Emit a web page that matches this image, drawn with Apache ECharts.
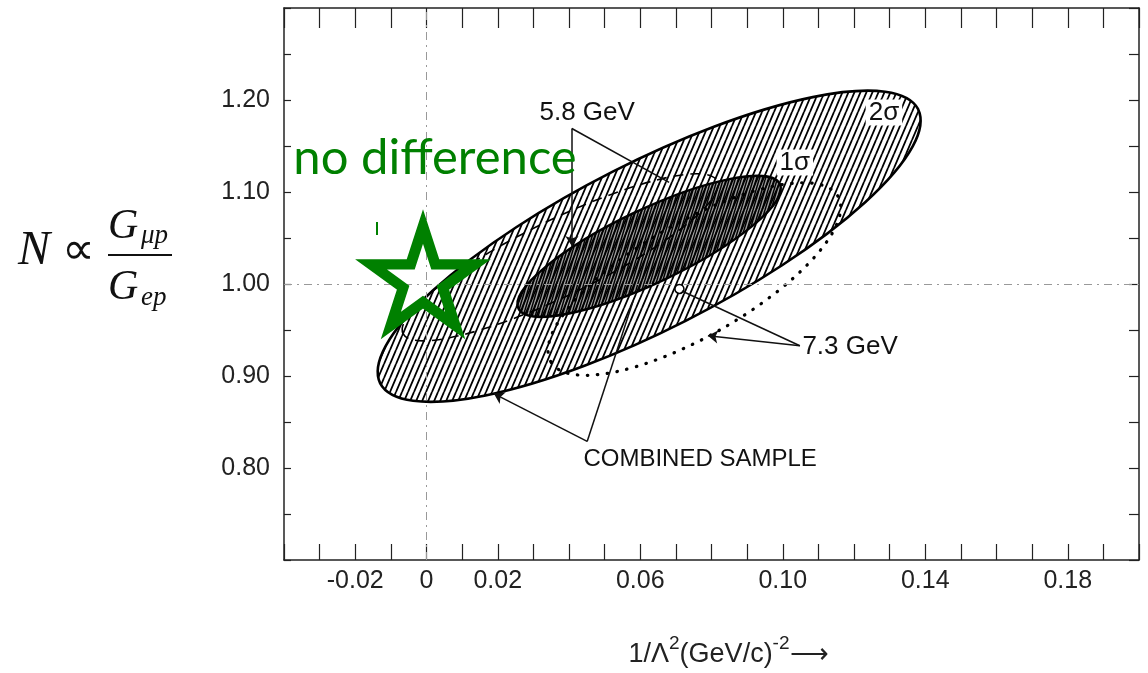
<!DOCTYPE html>
<html><head><meta charset="utf-8">
<script src="https://cdn.jsdelivr.net/npm/echarts@6/dist/echarts.min.js"></script>
<style>html,body{margin:0;padding:0;background:#fff}#c{width:1148px;height:673px}</style>
</head><body><div id="c"></div>
<script>
// ---- axis tick labels ----
const xLabelValues = [-0.02, 0, 0.02, 0.06, 0.10, 0.14, 0.18];
const yLabelValues = [0.80, 0.90, 1.00, 1.10, 1.20];
// ---- contours: [centerX, centerY, majorAxisEndX, majorAxisEndY, minorAxisEndX, minorAxisEndY] ----
const combined2Sigma = [0.0625, 1.041, 0.138, 1.190, 0.073, 0.960];
const combined1Sigma = [0.0625, 1.041, 0.0992, 1.1087, 0.0669, 1.005];
const gev58Contour   = [0.0375, 1.029, 0.0816, 1.112, 0.0422, 0.992];
const gev73Contour   = [0.0752, 1.0054, 0.1155, 1.0953, 0.0832, 0.9519];
// ---- points ----
const gev73Point = [0.0710, 0.9946];
const noDifferencePoint = [0, 1.0];
// ---- annotation texts ----
const labelNames = ['5.8 GeV', '2σ', '1σ', '7.3 GeV', 'COMBINED SAMPLE'];
const labelPositions = [[0.0451, 1.1863], [0.1284, 1.1863], [0.1034, 1.1321], [0.1189, 0.9318], [0.0768, 0.8094]];
// ---- leader lines ----
const arrowLines = [
  [[0.0408, 1.169], [0.0408, 1.0412]],
  [[0.1048, 0.9329], [0.0790, 0.9437]],
  [[0.0451, 0.8289], [0.0189, 0.8809]]
];
const plainLines = [
  [[0.0408, 1.169], [0.0681, 1.1105]],
  [[0.1048, 0.9329], [0.0717, 0.9924]],
  [[0.0451, 0.8289], [0.0580, 0.9816]]
];

function hatchCanvas(w, h, lw, color, bg) {
  const c = document.createElement('canvas');
  c.width = w; c.height = h;
  const g = c.getContext('2d');
  if (bg) { g.fillStyle = bg; g.fillRect(0, 0, w, h); }
  g.strokeStyle = color; g.lineWidth = lw;
  g.beginPath();
  for (let k = -1; k <= 1; k++) { g.moveTo(k * w, h); g.lineTo(k * w + w, 0); }
  g.stroke();
  return c;
}
const hatch2 = { image: hatchCanvas(6, 14, 1.8, '#000'), repeat: 'repeat' };
const hatch1 = { image: hatchCanvas(3, 10, 1.5, '#000', 'rgba(0,0,0,0.38)'), repeat: 'repeat' };

function ellipsePath(api) {
  const c = api.coord([api.value(0), api.value(1)]);
  const p = api.coord([api.value(2), api.value(3)]);
  const q = api.coord([api.value(4), api.value(5)]);
  const dx = p[0] - c[0], dy = p[1] - c[1];
  const rx = Math.hypot(dx, dy), ry = Math.hypot(q[0] - c[0], q[1] - c[1]);
  const phi = Math.atan2(dy, dx) * 180 / Math.PI;
  const f = v => v.toFixed(2);
  const x1 = c[0] - dx, y1 = c[1] - dy, x2 = c[0] + dx, y2 = c[1] + dy;
  return 'M' + f(x1) + ' ' + f(y1) +
    ' A' + f(rx) + ' ' + f(ry) + ' ' + f(phi) + ' 0 1 ' + f(x2) + ' ' + f(y2) +
    ' A' + f(rx) + ' ' + f(ry) + ' ' + f(phi) + ' 0 1 ' + f(x1) + ' ' + f(y1) + ' Z';
}
function contourSeries(name, row, style, z) {
  return {
    type: 'custom', name: name, coordinateSystem: 'cartesian2d', z: z, silent: true,
    data: [row], encode: { x: [0, 2, 4], y: [1, 3, 5] },
    renderItem: function (params, api) {
      return { type: 'path', shape: { pathData: ellipsePath(api) }, style: style };
    }
  };
}

const starPath = 'path://M50,0 L61.23,34.55 L97.55,34.55 L68.17,55.9 L79.39,90.45 L50,69.1 L20.61,90.45 L31.83,55.9 L2.45,34.55 L38.77,34.55 Z';
const tickFont = 'Liberation Sans';

const chart = echarts.init(document.getElementById('c'), null, { renderer: 'canvas' });
const axisCommon = {
  type: 'value', min: -0.04, max: 0.20, interval: 0.01,
  axisLine: { show: true, onZero: false, lineStyle: { color: '#222', width: 1.5 } },
  splitLine: { show: false }
};
chart.setOption({
  animation: false,
  backgroundColor: '#fff',
  grid: { left: 284, right: 9, top: 8, bottom: 111, containLabel: false },
  xAxis: [
    Object.assign({}, axisCommon, {
      position: 'bottom',
      axisTick: { show: true, inside: true, length: 16, lineStyle: { color: '#222', width: 1.2 } },
      axisLabel: {
        show: true, margin: 9, fontSize: 25, fontFamily: tickFont, color: '#222',
        formatter: function (v) {
          const k = Math.round(v * 100);
          if (!xLabelValues.some(t => Math.round(t * 100) === k)) return '';
          return k === 0 ? '0' : (k / 100).toFixed(2);
        }
      },
      name: '{t|1/Λ}{s|2}{t|(GeV/c)}{s|-2}{t|⟶}',
      nameLocation: 'middle', nameGap: 74,
      nameTextStyle: {
        padding: [0, 0, 0, 34],
        rich: {
          t: { fontSize: 27, fontFamily: tickFont, color: '#222', lineHeight: 34, verticalAlign: 'bottom' },
          s: { fontSize: 19, fontFamily: tickFont, color: '#222', lineHeight: 18, verticalAlign: 'top' }
        }
      }
    }),
    Object.assign({}, axisCommon, {
      position: 'top',
      axisTick: { show: true, inside: true, length: 20, lineStyle: { color: '#222', width: 1.2 } },
      axisLabel: { show: false }
    })
  ],
  yAxis: [
    {
      type: 'value', min: 0.70, max: 1.30, interval: 0.05, position: 'left',
      axisLine: { show: true, onZero: false, lineStyle: { color: '#222', width: 1.5 } },
      axisTick: { show: true, inside: true, length: 7, lineStyle: { color: '#222', width: 1.2 } },
      splitLine: { show: false },
      axisLabel: {
        show: true, margin: 14, fontSize: 25, fontFamily: tickFont, color: '#222',
        formatter: function (v) {
          const k = Math.round(v * 100);
          return yLabelValues.some(t => Math.round(t * 100) === k) ? (k / 100).toFixed(2) : '';
        }
      }
    },
    {
      type: 'value', min: 0.70, max: 1.30, interval: 0.05, position: 'right',
      axisLine: { show: true, onZero: false, lineStyle: { color: '#222', width: 1.5 } },
      axisTick: { show: true, inside: true, length: 10, lineStyle: { color: '#222', width: 1.2 } },
      splitLine: { show: false },
      axisLabel: { show: false }
    }
  ],
  graphic: [
    { type: 'text', left: 18, top: 227, style: { text: 'N', font: 'italic 48px "Liberation Serif"', fill: '#111' } },
    { type: 'text', left: 62, top: 229, style: { text: '∝', font: '46px "DejaVu Sans"', fill: '#111' } },
    { type: 'line', shape: { x1: 108, y1: 255, x2: 172, y2: 255 }, style: { stroke: '#111', lineWidth: 2.2 } },
    { type: 'text', left: 108, top: 206, style: { text: 'G', font: 'italic 42px "Liberation Serif"', fill: '#111' } },
    { type: 'text', left: 141, top: 222, style: { text: 'μp', font: 'italic 27px "Liberation Serif"', fill: '#111' } },
    { type: 'text', left: 108, top: 267, style: { text: 'G', font: 'italic 42px "Liberation Serif"', fill: '#111' } },
    { type: 'text', left: 141, top: 284, style: { text: 'ep', font: 'italic 27px "Liberation Serif"', fill: '#111' } },
    { type: 'line', shape: { x1: 377, y1: 222, x2: 377, y2: 235 }, style: { stroke: '#008000', lineWidth: 2 } }
  ],
  series: [
    {
      type: 'scatter', name: 'reference', z: 1, silent: true, symbol: 'none', data: [noDifferencePoint],
      markLine: {
        silent: true, symbol: ['none', 'none'], label: { show: false }, animation: false,
        lineStyle: { color: '#999', width: 1, type: [8, 5, 2, 5] },
        data: [{ xAxis: noDifferencePoint[0] }, { yAxis: noDifferencePoint[1] }]
      }
    },
    contourSeries('2σ combined', combined2Sigma, { fill: hatch2, stroke: '#000', lineWidth: 2.6 }, 2),
    contourSeries('1σ combined', combined1Sigma, { fill: hatch1, stroke: '#000', lineWidth: 2.4 }, 3),
    contourSeries('5.8 GeV', gev58Contour, { fill: 'none', stroke: '#000', lineWidth: 1.6, lineDash: [10, 7] }, 4),
    contourSeries('7.3 GeV', gev73Contour, { fill: 'none', stroke: '#000', lineWidth: 3.2, lineDash: [0.5, 9.5], lineCap: 'round' }, 4),
    {
      type: 'scatter', name: '7.3 GeV point', z: 5, silent: true, data: [gev73Point],
      symbol: 'circle', symbolSize: 9,
      itemStyle: { color: '#fff', borderColor: '#000', borderWidth: 1.5, opacity: 1 }
    },
    {
      type: 'lines', coordinateSystem: 'cartesian2d', z: 6, silent: true,
      symbol: ['none', 'arrow'], symbolSize: 10,
      lineStyle: { color: '#111', width: 1.5, opacity: 1 },
      data: arrowLines.map(c => ({ coords: c }))
    },
    {
      type: 'lines', coordinateSystem: 'cartesian2d', z: 6, silent: true,
      symbol: ['none', 'none'],
      lineStyle: { color: '#111', width: 1.5, opacity: 1 },
      data: plainLines.map(c => ({ coords: c }))
    },
    {
      type: 'scatter', name: 'annotations', z: 7, silent: true, symbolSize: 1,
      itemStyle: { color: 'rgba(0,0,0,0)', opacity: 1 },
      label: { show: true, position: 'inside', formatter: '{b}', color: '#111', opacity: 1, fontSize: 26, fontFamily: tickFont },
      data: labelNames.map((n, i) => ({
        name: n, value: labelPositions[i],
        label: (i === 1 || i === 2) ? { backgroundColor: '#fff', padding: [0, 3] } : (i === 4 ? { fontSize: 24 } : {})
      }))
    },
    {
      type: 'scatter', name: 'no difference', z: 10, silent: true, data: [noDifferencePoint],
      symbol: starPath, symbolSize: [104, 99], symbolOffset: [-3.5, -8], symbolKeepAspect: false,
      itemStyle: { color: 'rgba(0,0,0,0)', borderColor: '#008000', borderWidth: 10.5, borderJoin: 'miter', borderMiterLimit: 10, opacity: 1 },
      label: {
        show: true, formatter: 'no difference', position: 'inside', offset: [12, -118], opacity: 1,
        color: '#008000', fontSize: 49, fontFamily: 'Lato'
      }
    }
  ]
});
</script>
</body></html>
